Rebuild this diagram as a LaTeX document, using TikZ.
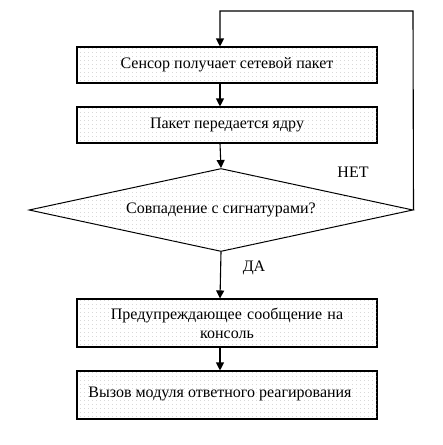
\documentclass[tikz,border=0pt]{standalone}
\usepackage{fontspec}
\setmainfont{Liberation Serif}
\usetikzlibrary{shapes.geometric,arrows.meta,patterns}
\pgfdeclarepatternformonly{sparsedots}{\pgfpointorigin}{\pgfqpoint{4pt}{4pt}}{\pgfqpoint{4pt}{4pt}}{%
  \pgfpathrectangle{\pgfpointorigin}{\pgfqpoint{0.9pt}{0.9pt}}\pgfusepath{fill}}
\begin{document}
\begin{tikzpicture}[x=1pt,y=-1pt,
  every node/.style={font=\fontsize{16}{19}\selectfont},
  dotfill/.style={pattern=sparsedots,pattern color=gray!70},
  procbox/.style={draw,line width=1.1pt,minimum width=300pt,inner sep=0pt,align=center,postaction={dotfill}},
  decision/.style={draw,diamond,line width=1pt,minimum width=384pt,minimum height=83pt,inner sep=0pt,aspect=4.6,postaction={dotfill}},
  flow/.style={line width=1.1pt,-{Triangle[width=8pt,length=8pt]}}]
\useasboundingbox (0,0) rectangle (443,445);
\node[procbox,minimum height=36pt] (b1) at (227,65) {Сенсор получает сетевой пакет};
\node[procbox,minimum height=36pt] (b2) at (227,125) {Пакет передается ядру};
\node[decision] (d) at (221,210) {Совпадение с сигнатурами?};
\node[procbox,minimum height=48pt,text width=250pt] (b3) at (227,323) {Предупреждающее сообщение на\\консоль};
\node[procbox,minimum height=48pt] (b4) at (227,395) {\raisebox{6pt}{Вызов модуля ответного реагирования\hspace{14pt}}};
\coordinate (tr) at (413,11);
\coordinate (tl) at (220,11);
\draw[flow] (b1.south -| 220,0) -- (b2.north -| 220,0);
\draw[flow] (b2.south -| 220,0) -- (d.north);
\draw[flow] (d.south) -- (b3.north -| 220,0);
\draw[flow] (b3.south -| 220,0) -- (b4.north -| 220,0);
\draw[flow] (d.east) -- (tr) -- (tl) -- (b1.north -| 220,0);
\node (no) at (353,172) {НЕТ};
\node (yes) at (254,268) {ДА};
\end{tikzpicture}
\end{document}
